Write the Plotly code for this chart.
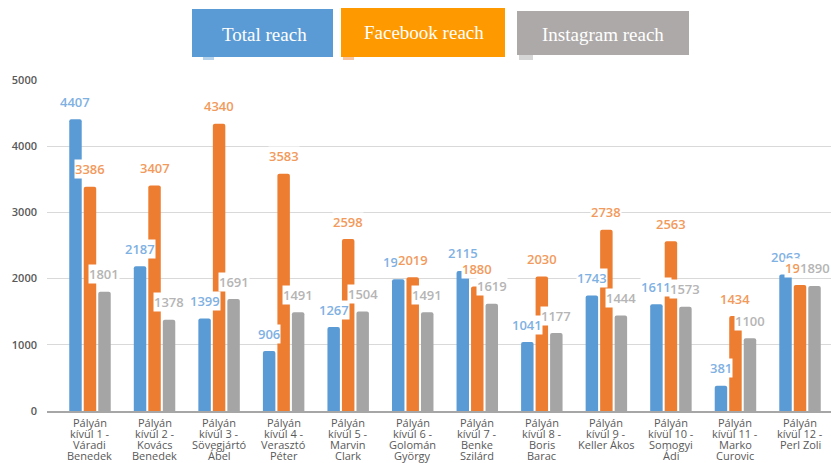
import plotly.graph_objects as go

categories = [
    ["Pályán", "kívül 1 -", "Váradi", "Benedek"],
    ["Pályán", "kívül 2 -", "Kovács", "Benedek"],
    ["Pályán", "kívül 3 -", "Sövegjártó", "Ábel"],
    ["Pályán", "kívül 4 -", "Verasztó", "Péter"],
    ["Pályán", "kívül 5 -", "Marvin", "Clark"],
    ["Pályán", "kívül 6 -", "Golomán", "György"],
    ["Pályán", "kívül 7 -", "Benke", "Szilárd"],
    ["Pályán", "kívül 8 -", "Boris", "Barac"],
    ["Pályán", "kívül 9 -", "Keller Ákos"],
    ["Pályán", "kívül 10 -", "Somogyi", "Ádi"],
    ["Pályán", "kívül 11 -", "Marko", "Curovic"],
    ["Pályán", "kívül 12 -", "Perl Zoli"],
]
cat_keys = [" ".join(c) for c in categories]

total_reach = [4407, 2187, 1399, 906, 1267, 1990, 2115, 1041, 1743, 1611, 381, 2063]
facebook_reach = [3386, 3407, 4340, 3583, 2598, 2019, 1880, 2030, 2738, 2563, 1434, 1902]
instagram_reach = [1801, 1378, 1691, 1491, 1504, 1491, 1619, 1177, 1444, 1573, 1100, 1890]

series_names = ["Total reach", "Facebook reach", "Instagram reach"]
y_ticks = [0, 1000, 2000, 3000, 4000, 5000]

bar_colors = ["#5B9BD5", "#ED7D31", "#A5A5A5"]
label_colors = ["#7FB1E3", "#F29A5C", "#B5B5B5"]
legend_colors = ["#5B9BD5", "#FF9900", "#ADA9A8"]

W, H = 831, 463
ML, MR, MT, MB = 47, 0, 80, 52
PW, PH = W - ML - MR, H - MT - MB


def px_x(p):
    return (p - ML) / PW


def px_y(p):
    return (H - MB - p) / PH


fig = go.Figure()
all_series = [total_reach, facebook_reach, instagram_reach]
for name, vals, col in zip(series_names, all_series, bar_colors):
    fig.add_trace(go.Bar(x=cat_keys, y=vals, name=name, marker_color=col,
                         marker_line_width=0, showlegend=False,
                         hoverinfo="x+y"))

annotations = []
shifts = [-14.5, 0, 14.5]
for vals, col, sh in zip(all_series, label_colors, shifts):
    for k, v in zip(cat_keys, vals):
        annotations.append(dict(
            x=k, y=v, xref="x", yref="y", text=str(v), showarrow=False,
            xshift=sh, yshift=17.5, yanchor="middle", xanchor="center",
            bgcolor="white", borderpad=0,
            font=dict(family="Open Sans", size=13, color=col, weight=600)))

# category labels, one annotation per line for tight line spacing
for k, lines in zip(cat_keys, categories):
    for i, line in enumerate(lines):
        annotations.append(dict(
            x=k, y=0, xref="x", yref="y", text=line, showarrow=False,
            yshift=-(11 + 11 * i), yanchor="middle", xanchor="center",
            font=dict(family="Open Sans", size=11, color="#595959")))

# legend boxes
legend_boxes = [(192, 333, 9, 57, 264, 35), (341, 505, 8, 57, 424, 33),
                (517, 689, 11, 55, 603, 35)]
shapes = []
# faint remnants of original small legend markers
for (x0, x1, y0, y1), col in zip([(203, 214, 55, 60), (343, 354, 55, 60),
                                  (519, 533, 54, 60)], bar_colors):
    shapes.append(dict(type="rect", xref="paper", yref="paper",
                       x0=px_x(x0), x1=px_x(x1), y0=px_y(y1), y1=px_y(y0),
                       fillcolor=col, line_width=0, opacity=0.45, layer="above"))
for (x0, x1, y0, y1, cx, cy), col, name in zip(legend_boxes, legend_colors, series_names):
    shapes.append(dict(type="rect", xref="paper", yref="paper",
                       x0=px_x(x0), x1=px_x(x1), y0=px_y(y1), y1=px_y(y0),
                       fillcolor=col, line_width=0, layer="above"))
    annotations.append(dict(x=px_x(cx), y=px_y(cy), xref="paper", yref="paper",
                            text=name, showarrow=False, xanchor="center",
                            yanchor="middle",
                            font=dict(family="Liberation Serif", size=19,
                                      color="white")))

fig.update_layout(
    width=W, height=H,
    margin=dict(l=ML, r=MR, t=MT, b=MB),
    paper_bgcolor="white", plot_bgcolor="white",
    barmode="group", bargap=0.326, bargroupgap=0.14, barcornerradius=2,
    showlegend=False,
    annotations=annotations, shapes=shapes,
    xaxis=dict(range=[-0.666, 11.48], showticklabels=False, showgrid=False,
               showline=True, linecolor="#A6A6A6", linewidth=1.5,
               ticks="", zeroline=False, fixedrange=True),
    yaxis=dict(range=[0, 5000], tickvals=y_ticks,
               ticktext=[str(t) for t in y_ticks],
               showgrid=True, gridcolor="#D9D9D9", gridwidth=1,
               zeroline=False, showline=False, ticks="",
               ticklabelstandoff=9,
               tickfont=dict(family="Open Sans", size=11, color="#595959",
                             weight=600),
               fixedrange=True),
)

fig.write_html("out.html",
               config={"displayModeBar": False},
               post_script="document.body.style.margin='0';"
                           "document.body.style.overflow='hidden';")
